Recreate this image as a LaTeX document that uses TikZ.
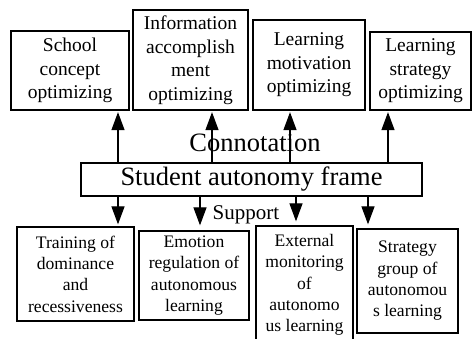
\documentclass[tikz,border=0pt]{standalone}
\usepackage{fontspec}
\setmainfont{Liberation Serif}
\usepackage{tikz}
\usetikzlibrary{calc}
\usetikzlibrary{arrows.meta}

\begin{document}
\begin{tikzpicture}[x=1pt, y=1pt,
  box/.style = {draw, line width = 1.3pt, inner sep = 0, align = center},
  topbox/.style = {box, font = \fontsize{19.5}{23.5}\selectfont},
  lowbox/.style = {box, font = \fontsize{17.6}{21.3}\selectfont},
  arr/.style = {line width = 1.3pt, -{Triangle[length=18pt, width=13pt]}}]

\useasboundingbox (0,0) rectangle (472,338);
\clip (0,0) rectangle (472,338);

% upper row
\node[topbox, minimum width = 118, minimum height = 79] (school) at (70,267.5) {School\\concept\\optimizing};
\node[topbox, minimum width = 115, minimum height = 100] (info) at (190.5,278) {Information\\accomplish\\ment\\optimizing};
\node[topbox, minimum width = 112, minimum height = 90] (motiv) at (309,273) {Learning\\motivation\\optimizing};
\node[topbox, minimum width = 101, minimum height = 78] (strat) at (420.5,267) {Learning\\strategy\\optimizing};

% frame in the middle
\node[box, minimum width = 341, minimum height = 33, font = \fontsize{26.5}{30}\selectfont] (frame) at (251.5,158.5) {Student autonomy frame};
\node[anchor = base, font = \fontsize{26.5}{30}\selectfont] (conn) at (255,186) {Connotation};
\node[anchor = base, font = \fontsize{21}{24}\selectfont] (supp) at (246,118) {Support};

% lower row
\node[lowbox, minimum width = 117, minimum height = 94] (train) at (75.5,64) {Training of\\dominance\\and\\recessiveness};
\node[lowbox, minimum width = 110, minimum height = 89] (emot) at (194,62.5) {Emotion\\regulation of\\autonomous\\learning};
\node[lowbox, minimum width = 97, minimum height = 118] (extern) at (304.5,53) {External\\monitoring\\of\\autonomo\\us learning};
\node[lowbox, minimum width = 101, minimum height = 104] (group) at (407.5,57) {Strategy\\group of\\autonomou\\s learning};

% arrows up
\coordinate (u1) at (118,0);
\coordinate (u2) at (212,0);
\coordinate (u3) at (290,0);
\coordinate (u4) at (388,0);
\draw[arr] (frame.north -| u1) -- ($(school.south -| u1) + (0,-1.5)$);
\draw[arr] (frame.north -| u2) -- ($(info.south -| u2) + (0,-1.5)$);
\draw[arr] (frame.north -| u3) -- ($(motiv.south -| u3) + (0,-1.5)$);
\draw[arr] (frame.north -| u4) -- ($(strat.south -| u4) + (0,-1.5)$);

% arrows down
\coordinate (d1) at (118,0);
\coordinate (d2) at (200,0);
\coordinate (d3) at (296,0);
\coordinate (d4) at (368,0);
\draw[arr] (frame.south -| d1) -- ($(train.north -| d1) + (0,2)$);
\draw[arr] (frame.south -| d2) -- ($(emot.north -| d2) + (0,5)$);
\draw[arr] (frame.south -| d3) -- ($(extern.north -| d3) + (0,4)$);
\draw[arr] (frame.south -| d4) -- ($(group.north -| d4) + (0,4)$);

\end{tikzpicture}
\end{document}
